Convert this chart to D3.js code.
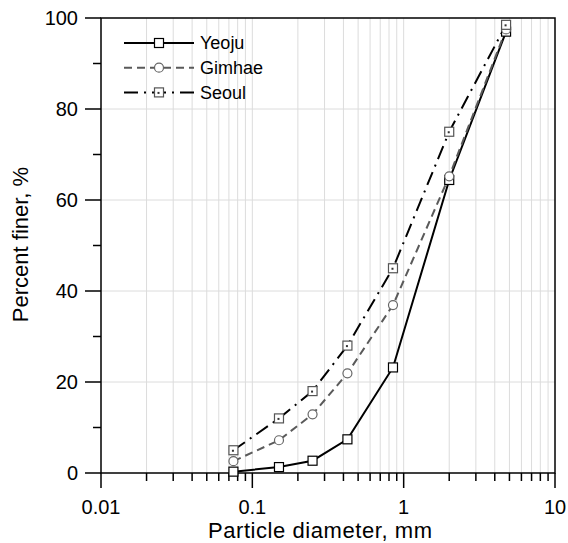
<!DOCTYPE html>
<html>
<head>
<meta charset="utf-8">
<script src="https://cdn.jsdelivr.net/npm/d3@7"></script>
<style>
  body { margin: 0; background: #fff; }
  svg { display: block; font-family: "Liberation Sans", Arial, sans-serif; }
  .grid line { stroke: #dcdcdc; stroke-width: 1; }
  .tick-label { font-size: 20px; fill: #000; }
  .axis-title { font-size: 22px; fill: #000; }
  .legend-text { font-size: 18px; fill: #000; }
</style>
</head>
<body>
<svg id="chart" width="568" height="543"></svg>
<script>
const SIEVES = [0.075, 0.15, 0.25, 0.425, 0.85, 2.0, 4.75];
const YEOJU = [0.3, 1.3, 2.7, 7.4, 23.2, 64.4, 97.0];
const GIMHAE = [2.6, 7.2, 12.9, 21.9, 36.9, 65.2, 97.5];
const SEOUL = [5.0, 12.0, 18.0, 28.0, 45.0, 75.0, 98.5];
const X_TICKS = [0.01, 0.1, 1, 10];
const Y_TICKS = [0, 20, 40, 60, 80, 100];

const SERIES = [
  { name: "Yeoju", values: YEOJU, stroke: "#000", dash: null, marker: "square", markerStroke: "#000", width: 2 },
  { name: "Gimhae", values: GIMHAE, stroke: "#5a5a5a", dash: "8,5", marker: "circle", markerStroke: "#666", width: 2 },
  { name: "Seoul", values: SEOUL, stroke: "#000", dash: "14,6,2,6", marker: "dotsquare", markerStroke: "#555", width: 2 }
];

const svg = d3.select("#chart");
const plotLeft = 101, plotRight = 555, plotTop = 18, plotBottom = 473;

const x = d3.scaleLog().domain([0.01, 10]).range([plotLeft, plotRight]);
const y = d3.scaleLinear().domain([0, 100]).range([plotBottom, plotTop]);

// minor x values for each decade
const minorX = [];
[0.01, 0.1, 1].forEach(base => {
  for (let k = 2; k <= 9; k += 1) minorX.push(base * k);
});
const minorY = d3.range(10, 100, 20);

const grid = svg.append("g").attr("class", "grid");
grid.selectAll(".vx")
  .data(minorX.concat([0.1, 1]))
  .join("line")
  .attr("x1", d => x(d)).attr("x2", d => x(d))
  .attr("y1", plotTop).attr("y2", plotBottom);
grid.selectAll(".hy")
  .data(Y_TICKS.slice(1, -1))
  .join("line")
  .attr("class", "hy")
  .attr("x1", plotLeft).attr("x2", plotRight)
  .attr("y1", d => y(d)).attr("y2", d => y(d));

// frame
svg.append("rect")
  .attr("x", plotLeft).attr("y", plotTop)
  .attr("width", plotRight - plotLeft).attr("height", plotBottom - plotTop)
  .attr("fill", "none").attr("stroke", "#000").attr("stroke-width", 1.5);

const axes = svg.append("g").attr("stroke", "#000").attr("stroke-width", 1.5);
axes.selectAll(".xmaj").data(X_TICKS).join("line")
  .attr("class", "xmaj")
  .attr("x1", d => x(d)).attr("x2", d => x(d))
  .attr("y1", plotBottom).attr("y2", plotBottom + 15);
axes.selectAll(".xmin").data(minorX).join("line")
  .attr("class", "xmin")
  .attr("x1", d => x(d)).attr("x2", d => x(d))
  .attr("y1", plotBottom).attr("y2", plotBottom + 8);
axes.selectAll(".ymaj").data(Y_TICKS).join("line")
  .attr("class", "ymaj")
  .attr("x1", plotLeft - 16).attr("x2", plotLeft)
  .attr("y1", d => y(d)).attr("y2", d => y(d));
axes.selectAll(".ymin").data(minorY).join("line")
  .attr("class", "ymin")
  .attr("x1", plotLeft - 8).attr("x2", plotLeft)
  .attr("y1", d => y(d)).attr("y2", d => y(d));

svg.selectAll(".xlab").data(X_TICKS).join("text")
  .attr("class", "tick-label xlab")
  .attr("x", d => x(d))
  .attr("y", plotBottom + 41)
  .attr("text-anchor", "middle")
  .text(d => String(d));

svg.selectAll(".ylab").data(Y_TICKS).join("text")
  .attr("class", "tick-label ylab")
  .attr("x", plotLeft - 23)
  .attr("y", d => y(d))
  .attr("dy", "0.35em")
  .attr("text-anchor", "end")
  .text(d => d);

svg.append("text")
  .attr("class", "axis-title")
  .attr("x", (plotLeft + plotRight) / 2 - 8)
  .attr("y", 538)
  .attr("text-anchor", "middle")
  .attr("textLength", 224)
  .text("Particle diameter, mm");

svg.append("text")
  .attr("class", "axis-title")
  .attr("transform", `translate(28,${(plotTop + plotBottom) / 2 - 1}) rotate(-90)`)
  .attr("text-anchor", "middle")
  .text("Percent finer, %");

const line = d3.line()
  .x((d, i) => x(SIEVES[i]))
  .y(d => y(d));

function drawMarker(g, s, cx, cy) {
  if (s.marker === "circle") {
    g.append("circle").attr("cx", cx).attr("cy", cy).attr("r", 4.5)
      .attr("fill", "#fff").attr("stroke", s.markerStroke).attr("stroke-width", 1.2);
  } else {
    g.append("rect").attr("x", cx - 4.5).attr("y", cy - 4.5)
      .attr("width", 9).attr("height", 9)
      .attr("fill", "#fff").attr("stroke", s.markerStroke).attr("stroke-width", 1.2);
    if (s.marker === "dotsquare") {
      g.append("rect").attr("x", cx - 1.5).attr("y", cy - 0.5)
        .attr("width", 2).attr("height", 2).attr("fill", "#333");
    }
  }
}

const plot = svg.append("g");
SERIES.forEach(s => {
  plot.append("path")
    .datum(s.values)
    .attr("d", line)
    .attr("fill", "none")
    .attr("stroke", s.stroke)
    .attr("stroke-width", s.width)
    .attr("stroke-dasharray", s.dash);
});
SERIES.forEach(s => {
  const g = plot.append("g");
  s.values.forEach((v, i) => drawMarker(g, s, x(SIEVES[i]), y(v)));
});

// legend
const legend = svg.append("g");
SERIES.forEach((s, i) => {
  const ly = 43 + i * 24.7;
  legend.append("line")
    .attr("x1", 124).attr("x2", 194)
    .attr("y1", ly).attr("y2", ly)
    .attr("stroke", s.stroke)
    .attr("stroke-width", s.width)
    .attr("stroke-dasharray", s.dash);
  drawMarker(legend, s, 159, ly);
  legend.append("text")
    .attr("class", "legend-text")
    .attr("x", 200)
    .attr("y", ly)
    .attr("dy", "0.36em")
    .text(s.name);
});
</script>
</body>
</html>
